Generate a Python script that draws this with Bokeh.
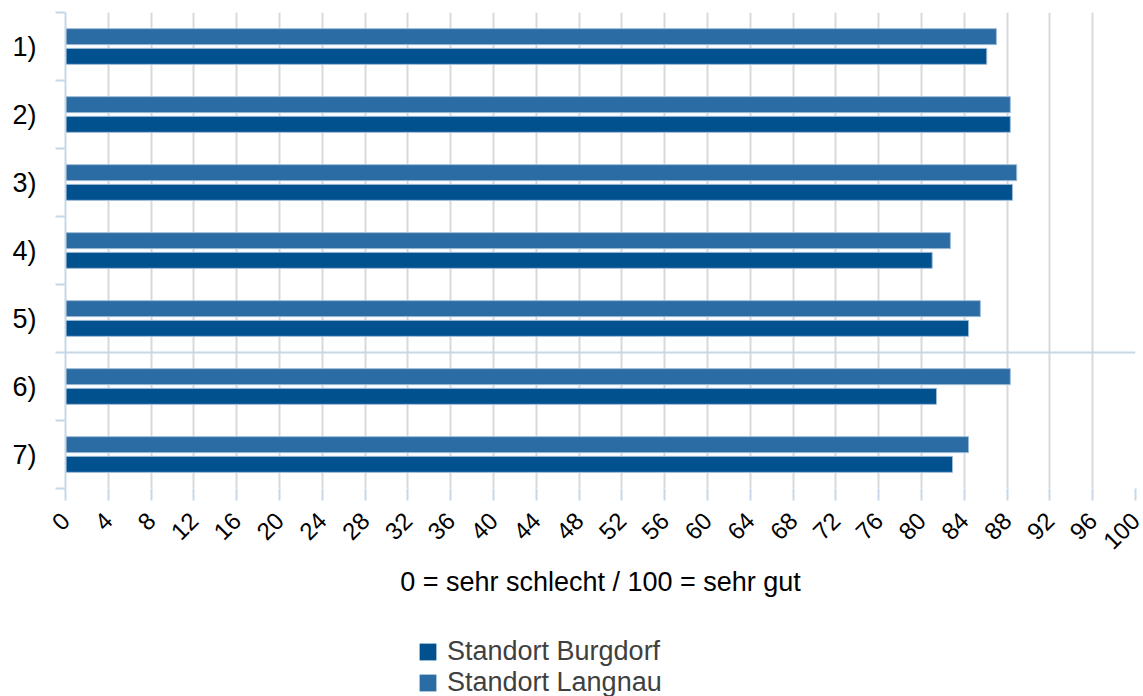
import numpy as np
from bokeh.plotting import figure
from bokeh.layouts import column
from bokeh.models import ColumnDataSource, FixedTicker, Range1d, Legend, LegendItem, Span
from bokeh.transform import dodge
from bokeh.embed import file_html
from bokeh.resources import INLINE

categories = ["1)", "2)", "3)", "4)", "5)", "6)", "7)"]
burgdorf = [86.1, 88.3, 88.5, 81.0, 84.4, 81.4, 82.9]
langnau = [87.0, 88.3, 88.9, 82.7, 85.5, 88.3, 84.4]
x_ticks = list(range(0, 101, 4))
x_title = "0 = sehr schlecht / 100 = sehr gut"
series_names = ["Standort Burgdorf", "Standort Langnau"]

C_BURG = "#01518f"
C_LANG = "#2a6ca3"
EDGE = "#9fbcd8"
AXIS_BLUE = "#c8d7e8"
GRID = "#d9d9d9"
FONT = "Liberation Sans"

n = len(categories)
ypos = [n - 1 - i for i in range(n)]
src = ColumnDataSource(dict(y=ypos, b=burgdorf, l=langnau, cat=categories))

p = figure(width=1143, height=620, output_backend="svg", toolbar_location=None,
           x_range=Range1d(0, 100), y_range=Range1d(-0.5, n - 0.5),
           min_border_left=65, min_border_right=8, min_border_top=12, min_border_bottom=132)
p.outline_line_color = None
p.background_fill_color = "white"
p.border_fill_color = "white"

r_l = p.hbar(y=dodge("y", 0.145), left=0, right="l", height=0.235, source=src,
             fill_color=C_LANG, line_color=EDGE, line_width=1)
r_b = p.hbar(y=dodge("y", -0.145), left=0, right="b", height=0.235, source=src,
             fill_color=C_BURG, line_color=EDGE, line_width=1)

# divider line between 5) and 6)
p.add_layout(Span(location=n - 1 - 4.5, dimension="width", line_color=AXIS_BLUE, line_width=2))

# x axis
xa = p.xaxis[0]
xa.ticker = FixedTicker(ticks=x_ticks)
xa.axis_line_color = None
xa.major_tick_line_color = AXIS_BLUE
xa.major_tick_line_width = 2
xa.major_tick_out = 12
xa.major_tick_in = 0
xa.minor_tick_line_color = None
xa.major_label_orientation = np.pi / 4
xa.major_label_text_font = FONT
xa.major_label_text_font_size = "24px"
xa.major_label_text_color = "black"
xa.major_label_standoff = 16
xa.axis_label = x_title
xa.axis_label_text_font = FONT
xa.axis_label_text_font_size = "27px"
xa.axis_label_text_font_style = "normal"
xa.axis_label_text_color = "black"
xa.axis_label_standoff = 7

# y axis
ya = p.yaxis[0]
boundaries = [y + 0.5 for y in range(-1, n)]
ya.ticker = FixedTicker(ticks=ypos, minor_ticks=boundaries)
ya.major_label_overrides = {y: c for y, c in zip(ypos, categories)}
ya.axis_line_color = AXIS_BLUE
ya.axis_line_width = 2
ya.major_tick_line_color = None
ya.major_tick_out = 0
ya.major_tick_in = 0
ya.minor_tick_line_color = AXIS_BLUE
ya.minor_tick_line_width = 2
ya.minor_tick_out = 10
ya.minor_tick_in = 0
ya.major_label_text_font = FONT
ya.major_label_text_font_size = "27px"
ya.major_label_text_color = "black"
ya.major_label_standoff = 19

p.xgrid.ticker = FixedTicker(ticks=x_ticks)
p.xgrid.grid_line_color = GRID
p.xgrid.grid_line_width = 2
p.ygrid.grid_line_color = None

# legend strip below the chart
pl = figure(width=1143, height=76, output_backend="svg", toolbar_location=None,
            x_range=Range1d(0, 1), y_range=Range1d(0, 1),
            min_border_left=0, min_border_right=0, min_border_top=0, min_border_bottom=0)
pl.axis.visible = False
pl.grid.visible = False
pl.outline_line_color = None
dummy = ColumnDataSource(dict(y=np.array([np.nan]), r=np.array([np.nan])))
lb = pl.hbar(y="y", right="r", left=0, height=0.1, source=dummy, fill_color=C_BURG, line_color=None)
ll = pl.hbar(y="y", right="r", left=0, height=0.1, source=dummy, fill_color=C_LANG, line_color=None)
legend = Legend(items=[LegendItem(label=series_names[0], renderers=[lb]),
                       LegendItem(label=series_names[1], renderers=[ll])],
                location=(352, -2), orientation="vertical",
                label_text_font=FONT, label_text_font_size="27px", label_text_color="#404040",
                glyph_width=21, glyph_height=21, label_height=26, spacing=-3,
                label_standoff=9, padding=0, margin=0,
                background_fill_alpha=0, border_line_color=None)
pl.add_layout(legend)

layout = column(p, pl, spacing=0)
open("out.html", "w").write(file_html(layout, INLINE))
